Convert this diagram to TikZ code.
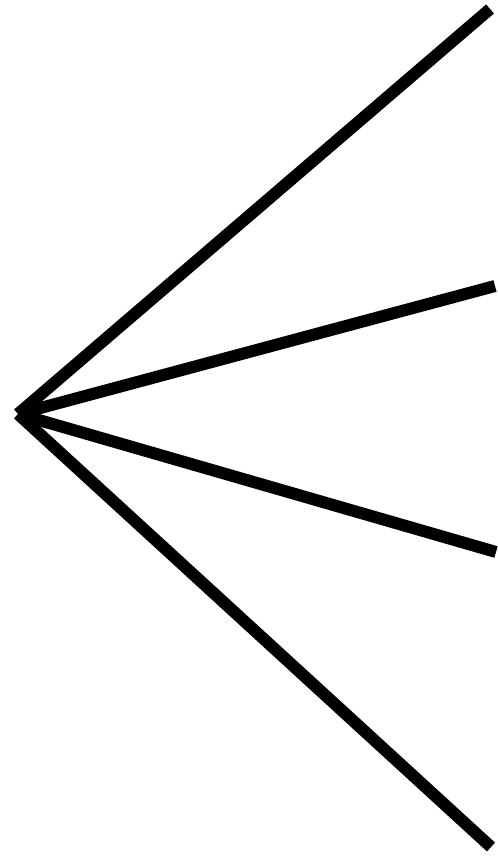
\documentclass[tikz,border=0pt]{standalone}
\usepackage{tikz}
\usetikzlibrary{positioning}

\begin{document}
\begin{tikzpicture}[
  x=0.02cm, y=-0.02cm,
  ray/.style={draw=black, line width=0.24cm, line cap=butt},
]
\useasboundingbox (0,0) rectangle (497,857);

% === APEX ===
\coordinate (apex) at (18,414);

% === RAY ENDS ===
\coordinate (e1) at (490,9);
\coordinate (e2) at (495,286);
\coordinate (e3) at (496,552);
\coordinate (e4) at (491,847);

% Fan of rays from the apex
\foreach \i in {1,2,3,4} {
  \draw[ray] (apex) -- (e\i);
}

\end{tikzpicture}
\end{document}
